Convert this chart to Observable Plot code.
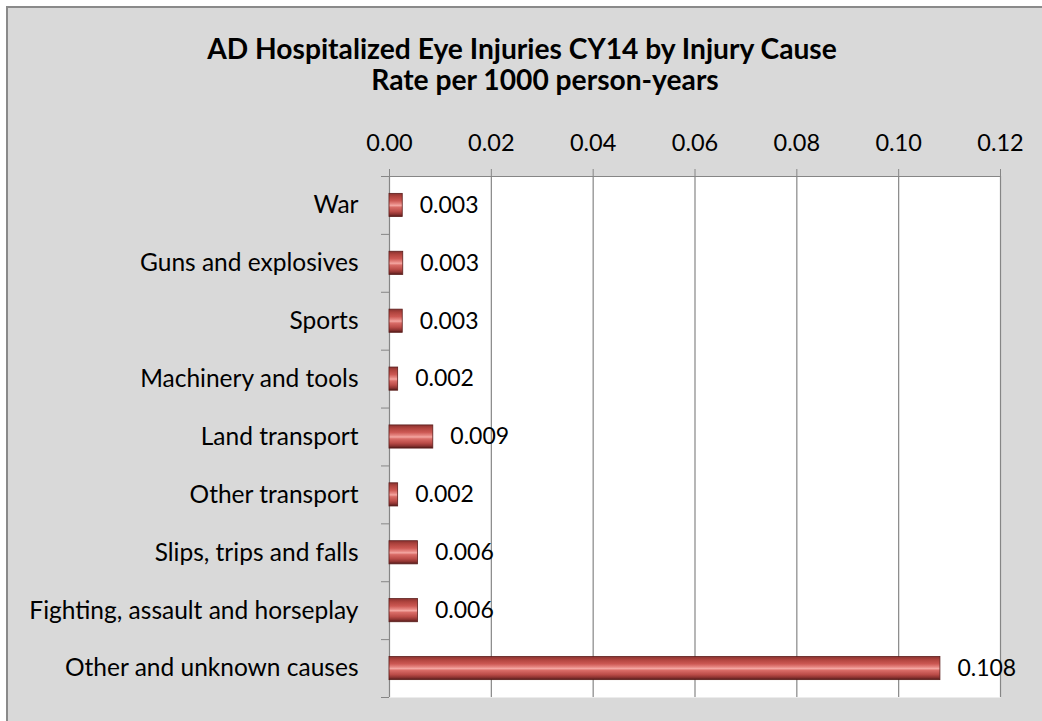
<!DOCTYPE html>
<html><head><meta charset="utf-8">
<script src="https://cdn.jsdelivr.net/npm/d3@7"></script>
<script src="https://cdn.jsdelivr.net/npm/@observablehq/plot@0.6"></script>
<style>
html,body{margin:0;padding:0;width:1042px;height:721px;overflow:hidden;background:#fff;font-family:Lato,sans-serif}
#frame{position:absolute;left:6px;top:6px;width:1036px;height:715px;background:#d9d9d9;border-left:2px solid #8a8a8a;border-top:2px solid #8a8a8a;box-sizing:border-box}
.t{position:absolute;font:bold 28.2px/28px Lato,sans-serif;color:#000;white-space:nowrap;transform:translateX(-50%)}
#chart{position:absolute;left:0;top:110px;width:1042px;height:611px}
#chart svg{overflow:visible}
#chart g[aria-label="x-axis"] line,#chart g[aria-label="y-axis"] line{stroke:#868686}
#chart g[aria-label="x-axis tick"],#chart g[aria-label="y-axis tick"]{stroke:#868686;color:#868686}
#chart g[aria-label="x-axis tick"] path,#chart g[aria-label="y-axis tick"] path{stroke:#868686}
</style></head>
<body>
<svg width="0" height="0" style="position:absolute">
  <defs>
    <linearGradient id="barGrad" x1="0" y1="0" x2="0" y2="1">
      <stop offset="0" stop-color="#8a3230"/>
      <stop offset="0.14" stop-color="#b0443e"/>
      <stop offset="0.32" stop-color="#cc5853"/>
      <stop offset="0.46" stop-color="#e88984"/>
      <stop offset="0.52" stop-color="#f4a7a2"/>
      <stop offset="0.6" stop-color="#d96c67"/>
      <stop offset="0.78" stop-color="#bb4c48"/>
      <stop offset="0.9" stop-color="#8f3432"/>
      <stop offset="1" stop-color="#521b1a"/>
    </linearGradient>
  </defs>
</svg>
<div id="frame"></div>
<div class="t" style="left:522px;top:34px">AD Hospitalized Eye Injuries CY14 by Injury Cause</div>
<div class="t" style="left:545px;top:65px">Rate per 1000 person-years</div>
<div id="chart"></div>
<script>
const causes = ["War","Guns and explosives","Sports","Machinery and tools","Land transport","Other transport","Slips, trips and falls","Fighting, assault and horseplay","Other and unknown causes"];
const rates = [0.0026, 0.0027, 0.0026, 0.0017, 0.0086, 0.0017, 0.0056, 0.0056, 0.1082];
const xTicks = [0, 0.02, 0.04, 0.06, 0.08, 0.10, 0.12];
const bounds = d3.range(-0.5, causes.length, 1);
const data = causes.map((cause, i) => ({cause, rate: rates[i], i}));

const chart = Plot.plot({
  width: 1042, height: 611,
  marginLeft: 389, marginRight: 42, marginTop: 66, marginBottom: 24,
  style: {background: "transparent", color: "#000", fontFamily: "Lato, sans-serif", fontSize: "23.5px", overflow: "visible"},
  x: {domain: [0, 0.12], axis: "top", ticks: xTicks, tickFormat: d => d.toFixed(2), tickSize: 8, tickPadding: 18, label: null},
  y: {domain: [-0.5, causes.length - 0.5], reverse: true, axis: "left", ticks: bounds, tickSize: 8, tickFormat: () => "", label: null},
  marks: [
    Plot.frame({fill: "white", stroke: "none"}),
    Plot.ruleX(xTicks, {stroke: "#868686", strokeWidth: 1.2}),
    Plot.ruleY([-0.5], {stroke: "#868686", strokeWidth: 1.2}),
    Plot.rect(data, {x1: 0, x2: "rate", y1: d => d.i - 0.2, y2: d => d.i + 0.2, fill: "url(#barGrad)", stroke: "#5c1d1b", strokeWidth: 0.8}),
    Plot.text(data, {x: "rate", y: "i", text: d => d.rate.toFixed(3), textAnchor: "start", dx: 17, fontSize: 23, fill: "#000"}),
    Plot.text(data, {x: 0, y: "i", text: "cause", textAnchor: "end", dx: -31, fontSize: 24.5, fill: "#000"})
  ]
});
document.getElementById("chart").appendChild(chart);
</script>
</body></html>
